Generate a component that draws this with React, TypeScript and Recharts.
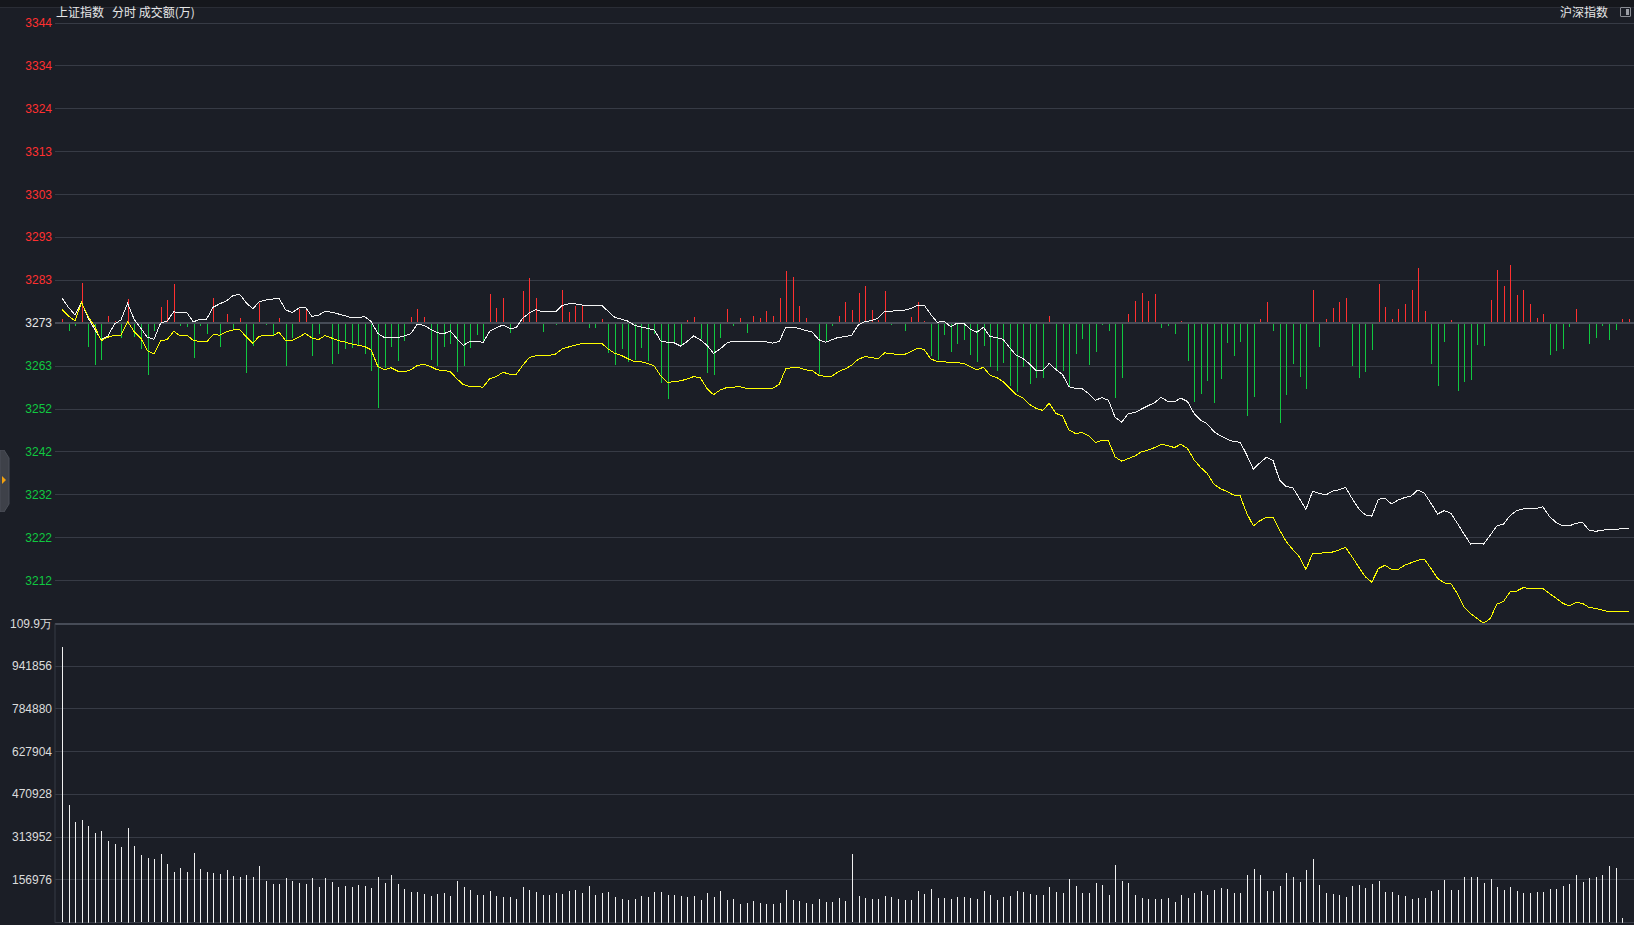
import { ComposedChart, Line, Bar, XAxis, YAxis, CartesianGrid, ReferenceLine } from "recharts";

// 上证指数 intraday, one point per minute from 9:30 (index 0)
const PREV_CLOSE = 3273.3;
const PRICE_STEP = 10.14;
const PRICE_LABELS = ["3344","3334","3324","3313","3303","3293","3283","3273","3263","3252","3242","3232","3222","3212"];
const VOLUME_TICKS = [0, 156976, 313952, 470928, 627904, 784880, 941856, 1098832];
const VOLUME_LABELS = ["", "156976","313952","470928","627904","784880","941856","109.9万"];
const HALF_HOUR_MARKS = [30, 60, 90, 150, 180, 210]; // 10:00 10:30 11:00 13:30 14:00 14:30
const MIDDAY_MARK = 119.1;

// white: index price
const INDEX_LINE = [
  3279.3, 3277.1, 3275.3, 3278.2, 3274.6, 3271.8, 3269.4, 3270.3, 3273.1, 3274.1,
  3278.0, 3274.2, 3272.1, 3270.0, 3269.5, 3273.3, 3273.8, 3276.0, 3275.8, 3275.8,
  3273.6, 3274.3, 3274.3, 3277.1, 3277.9, 3278.6, 3279.8, 3280.2, 3278.2, 3276.7,
  3278.4, 3278.8, 3279.0, 3279.2, 3276.5, 3275.8, 3276.9, 3277.1, 3274.9, 3275.2,
  3276.1, 3275.9, 3275.5, 3275.1, 3274.6, 3274.6, 3274.9, 3273.7, 3270.9, 3269.9,
  3270.0, 3269.9, 3270.3, 3270.8, 3273.1, 3272.8, 3271.9, 3271.1, 3270.8, 3271.5,
  3269.7, 3268.1, 3269.0, 3269.0, 3268.8, 3271.4, 3272.2, 3272.9, 3272.1, 3272.2,
  3274.5, 3275.7, 3276.5, 3276.0, 3276.1, 3276.0, 3277.5, 3277.9, 3277.9, 3277.6,
  3277.6, 3277.4, 3277.6, 3276.1, 3274.7, 3274.3, 3273.8, 3272.8, 3272.4, 3272.1,
  3271.7, 3269.1, 3268.8, 3268.7, 3267.9, 3269.0, 3270.3, 3269.4, 3268.1, 3266.2,
  3267.2, 3268.6, 3269.1, 3269.1, 3269.1, 3269.1, 3268.9, 3268.9, 3268.6, 3269.0,
  3272.4, 3272.4, 3272.1, 3271.6, 3271.2, 3269.4, 3268.8, 3269.4, 3270.0, 3270.1,
  3270.5, 3272.9, 3273.7, 3273.9, 3274.5, 3276.1, 3276.1, 3276.4, 3276.4, 3276.8,
  3277.6, 3277.6, 3275.4, 3273.5, 3273.8, 3272.5, 3273.3, 3273.3, 3271.9, 3271.2,
  3272.3, 3270.2, 3269.9, 3269.5, 3267.5, 3265.7, 3265.0, 3263.7, 3262.1, 3262.1,
  3263.8, 3262.4, 3261.2, 3258.3, 3257.9, 3257.8, 3256.7, 3255.1, 3255.7, 3255.1,
  3251.1, 3249.9, 3251.9, 3252.2, 3253.0, 3253.8, 3254.5, 3255.8, 3254.8, 3254.7,
  3255.6, 3254.8, 3252.0, 3250.4, 3249.5, 3247.7, 3246.7, 3245.9, 3245.3, 3245.2,
  3242.2, 3238.8, 3240.3, 3241.6, 3240.8, 3236.2, 3234.7, 3234.4, 3231.9, 3229.3,
  3233.6, 3233.1, 3232.7, 3233.6, 3233.9, 3234.5, 3231.9, 3229.5, 3228.0, 3227.7,
  3231.7, 3231.9, 3230.6, 3231.5, 3232.1, 3232.5, 3233.9, 3233.1, 3230.7, 3228.2,
  3229.0, 3228.4, 3226.0, 3223.5, 3221.1, 3221.3, 3221.1, 3223.2, 3225.4, 3225.8,
  3227.8, 3229.0, 3229.4, 3229.5, 3229.5, 3229.9, 3227.6, 3226.2, 3225.4, 3225.4,
  3226.0, 3226.2, 3224.4, 3224.1, 3224.4, 3224.5, 3224.6, 3224.7, 3224.7,
];

// yellow: equal-weight line
const LEADER_LINE = [
  3276.6, 3275.0, 3273.9, 3278.2, 3274.9, 3272.5, 3269.2, 3270.0, 3270.5, 3270.5,
  3273.7, 3271.3, 3269.8, 3266.8, 3266.0, 3269.2, 3269.4, 3271.4, 3270.3, 3270.5,
  3269.2, 3269.0, 3268.9, 3270.6, 3270.5, 3271.3, 3271.7, 3271.9, 3270.1, 3268.6,
  3270.2, 3270.5, 3270.3, 3271.2, 3269.2, 3269.2, 3270.0, 3270.9, 3269.8, 3269.4,
  3270.4, 3269.8, 3269.2, 3268.9, 3268.4, 3268.1, 3267.8, 3267.0, 3263.1, 3262.3,
  3262.8, 3262.0, 3261.8, 3262.3, 3263.3, 3263.6, 3263.1, 3262.3, 3262.1, 3261.9,
  3260.2, 3258.8, 3258.3, 3258.3, 3258.2, 3260.2, 3260.7, 3261.7, 3261.3, 3261.2,
  3263.3, 3265.2, 3265.6, 3265.6, 3265.7, 3266.0, 3267.2, 3267.7, 3268.1, 3268.5,
  3268.5, 3268.4, 3268.6, 3267.2, 3266.2, 3265.7, 3264.9, 3264.2, 3264.2, 3263.8,
  3263.2, 3260.8, 3259.3, 3259.5, 3259.7, 3260.1, 3260.7, 3260.4, 3257.9, 3256.4,
  3257.5, 3258.1, 3258.2, 3258.3, 3257.9, 3257.9, 3257.9, 3257.8, 3257.9, 3258.9,
  3262.6, 3262.8, 3262.8, 3262.3, 3262.1, 3261.0, 3260.7, 3260.8, 3261.9, 3262.5,
  3263.4, 3264.8, 3265.4, 3265.2, 3264.9, 3266.3, 3266.1, 3265.9, 3265.9, 3266.6,
  3267.4, 3267.1, 3264.9, 3264.2, 3264.2, 3264.0, 3264.0, 3263.8, 3263.0, 3262.3,
  3262.9, 3261.0, 3260.5, 3259.5, 3257.9, 3256.4, 3255.6, 3254.1, 3253.2, 3252.7,
  3254.4, 3252.0, 3251.4, 3248.1, 3247.2, 3247.5, 3246.7, 3245.1, 3245.6, 3245.5,
  3241.7, 3240.7, 3241.3, 3241.9, 3242.9, 3243.3, 3243.9, 3244.7, 3244.4, 3243.9,
  3244.7, 3243.7, 3241.0, 3239.2, 3237.8, 3235.3, 3234.2, 3233.5, 3232.7, 3232.5,
  3228.4, 3225.4, 3226.6, 3227.4, 3227.4, 3224.4, 3221.7, 3219.8, 3218.1, 3215.1,
  3218.9, 3218.9, 3219.1, 3219.2, 3219.7, 3220.3, 3218.1, 3215.7, 3213.4, 3212.1,
  3215.3, 3216.1, 3215.1, 3215.1, 3216.1, 3216.7, 3217.3, 3217.5, 3215.3, 3213.0,
  3211.9, 3211.8, 3209.4, 3206.3, 3204.7, 3203.5, 3202.4, 3203.5, 3206.9, 3207.5,
  3209.8, 3210.0, 3210.8, 3210.6, 3210.6, 3210.6, 3209.4, 3208.3, 3207.1, 3206.5,
  3207.3, 3207.1, 3206.1, 3205.9, 3205.5, 3205.1, 3205.1, 3205.2, 3205.1,
];

// red/green strength bars around the previous close
const BREADTH = [
  0.95, -1.97, -0.79, 9.62, -5.76, -9.86, -8.83, 1.81, 0.63, -3.63,
  5.76, -3.39, -6.23, -12.38, -1.97, 3.94, 5.52, 9.38, -0.79, -1.03,
  -8.36, -0.79, -2.68, 6.07, -5.76, 2.29, -1.42, 1.26, -11.9, -5.52,
  4.89, -0.55, -3.15, 1.26, -10.25, -3.63, 3.47, 3.47, -7.89, -2.68,
  -0.3, -9.78, -7.41, -6.23, -5.99, -5.52, -7.41, -11.43, -20.19, -10.72,
  -5.76, -9.07, -4.34, 1.5, 3.39, 1.5, -8.83, -10.25, -5.76, -5.05,
  -11.67, -10.25, -5.99, -2.92, -4.73, 6.94, 3.63, 5.99, -2.37, 0,
  7.65, 10.72, 5.99, -2.21, 0.32, -0.47, 7.89, 2.68, 4.1, 4.34,
  -1.1, -1.1, 1.03, -7.18, -10.01, -6.23, -9.3, -8.83, -5.99, -9.07,
  -2.68, -14.27, -18.06, -5.05, -5.52, 0.79, 1.5, -3.86, -11.91, -12.38,
  -3.63, 3.39, -0.79, 1.26, -2.44, 1.73, 1.26, 2.92, 1.73, 5.99,
  12.38, 10.96, 4.1, 1.26, 0.39, -12.14, -4.34, -0.79, 1.73, 5.05,
  3.15, 7.1, 8.83, 3.15, 0.79, 7.65, -0.39, 0.32, -1.81, 1.5,
  5.05, 0.55, -7.89, -8.83, -2.76, -6.94, -5.05, -3.94, -7.49, -9.3,
  -5.52, -10.49, -11.43, -9.54, -14.98, -16.4, -10.49, -14.51, -13.09, -13.09,
  1.73, -11.2, -11.43, -14.98, -7.41, -3.86, -10.01, -6.94, -0.39, -1.97,
  -17.82, -13.09, 2.21, 5.28, 7.18, 5.28, 6.94, -1.1, -0.79, -2.68,
  0.55, -9.07, -18.77, -16.87, -13.8, -19.0, -13.33, -4.81, -7.89, -4.57,
  -22.08, -17.58, 1.03, 5.05, -1.97, -23.73, -17.11, -9.78, -12.85, -15.69,
  7.89, -5.76, 1.03, 3.63, 5.05, 5.99, -10.25, -13.09, -11.67, -6.47,
  9.3, 3.86, 1.03, 3.39, 4.57, 7.89, 13.09, 2.92, -9.78, -14.98,
  -4.57, 0.79, -16.16, -14.04, -13.56, -5.28, -5.52, 5.52, 12.62, 8.83,
  13.8, 6.7, 7.89, 4.57, 1.26, 2.21, -7.65, -6.7, -6.23, -1.03,
  3.39, 0.32, -5.05, -3.63, -0.79, -4.1, -1.73, 1.03, 1.03,
];

// 成交额(万) per minute
const VOLUME = [
  1011000, 432600, 369600, 377000, 354700, 328800, 336200, 299100, 288000, 276900,
  347300, 280600, 247200, 236100, 232400, 250900, 213800, 187900, 202700, 187900,
  254600, 199000, 187900, 184200, 180500, 195300, 173000, 169300, 176700, 169300,
  206400, 154500, 143400, 143400, 165600, 154500, 147100, 143400, 165600, 132300,
  165600, 150800, 132300, 136000, 132300, 139700, 136000, 128500, 169300, 147100,
  176700, 143400, 123600, 113700, 113700, 106300, 98900, 106300, 110000, 98900,
  154500, 132300, 121100, 102600, 102600, 117400, 98900, 95200, 95200, 87800,
  132300, 121100, 113700, 102600, 102600, 110000, 106300, 117400, 121100, 110000,
  136000, 102600, 110000, 113700, 95200, 87800, 84000, 87800, 98900, 95200,
  113700, 113700, 102600, 102600, 98900, 95200, 98900, 84000, 110000, 95200,
  117400, 84000, 87800, 69200, 72900, 80300, 72900, 69200, 69200, 72900,
  121100, 84000, 80300, 72900, 69200, 87800, 76600, 76600, 91500, 80300,
  250900, 98900, 91500, 87800, 87800, 98900, 95200, 87800, 84000, 84000,
  117400, 106300, 124800, 91500, 91500, 87800, 95200, 95200, 91500, 87800,
  117400, 102600, 84000, 95200, 98900, 117400, 113700, 106300, 102600, 102600,
  132300, 113700, 110000, 161900, 136000, 110000, 110000, 147100, 139700, 102600,
  210100, 154500, 147100, 102600, 91500, 87800, 87800, 87800, 91500, 76600,
  102600, 91500, 110000, 117400, 102600, 121100, 128500, 124800, 110000, 110000,
  176700, 199000, 176700, 117400, 117400, 136000, 184200, 169300, 150800, 195300,
  232400, 139700, 110000, 106300, 102600, 95200, 136000, 139700, 128500, 143400,
  154500, 113700, 113700, 102600, 98900, 87800, 91500, 91500, 117400, 121100,
  158200, 121100, 121100, 169300, 169300, 169300, 147100, 161900, 132300, 121100,
  132300, 117400, 110000, 110000, 113700, 113700, 124800, 124800, 136000, 143400,
  176700, 150800, 165600, 169300, 176700, 206400, 202700, 17300,
];

const BG = "#1b1e26";
const GRID = "#373b45";
const BASE_LINE = "#474c57";
const RED = "#ff3030";
const GREEN = "#10c840";
const FONT = "'Liberation Sans', Arial, sans-serif";
const CJK = "'Noto Sans CJK SC', sans-serif";
const X_DOMAIN = [-1.03, 238.83];
const W = 1634;
const H = 925;
const SPLIT = 623.5;

const rows = INDEX_LINE.map((v, i) => ({
  i,
  index: v,
  leader: LEADER_LINE[i],
  breadth: BREADTH[i],
  volume: i < VOLUME.length ? VOLUME[i] : null,
}));

const PRICE_TICKS = PRICE_LABELS.map((_, k) => PREV_CLOSE + (7 - k) * PRICE_STEP);

function PriceTick(props: any) {
  const k = PRICE_TICKS.indexOf(props.payload.value);
  const fill = k < 7 ? RED : k === 7 ? "#e8e8e8" : GREEN;
  return (
    <text x={52} y={props.y} textAnchor="end" dominantBaseline="central" fill={fill} fontSize={12} fontFamily={FONT}>
      {PRICE_LABELS[k]}
    </text>
  );
}

function VolumeTick(props: any) {
  const k = VOLUME_TICKS.indexOf(props.payload.value);
  return (
    <text x={52} y={props.y} textAnchor="end" dominantBaseline="central" fill="#dcdcdc" fontSize={12} fontFamily={FONT}>
      {VOLUME_LABELS[k]}
    </text>
  );
}

// thin 1px sticks snapped to whole pixels
function Stick(props: any) {
  const { x, y, width, height, payload } = props;
  if (height == null || isNaN(height)) return null;
  const top = Math.round(Math.min(y, y + height));
  const h = Math.max(Math.round(Math.abs(height)), 1);
  const color = props.fillColor ?? (payload.breadth >= 0 ? RED : GREEN);
  return <rect x={Math.round(x + width / 2)} y={top} width={1} height={h} fill={color} shapeRendering="crispEdges" />;
}

function Verticals() {
  return (
    <>
      {HALF_HOUR_MARKS.map((m) => (
        <ReferenceLine key={m} x={m} stroke="#4d525d" strokeDasharray="1 2" ifOverflow="visible" />
      ))}
      <ReferenceLine x={MIDDAY_MARK} stroke="#3f4450" strokeWidth={1} />
    </>
  );
}

export default function App() {
  const half = 7 * PRICE_STEP;
  return (
    <div style={{ position: "relative", width: W, height: H, background: BG, overflow: "hidden" }}>
      <style>{"html,body{margin:0;padding:0;background:#1b1e26;} .recharts-line-curve{shape-rendering:crispEdges;} .recharts-cartesian-grid line,.recharts-reference-line line{shape-rendering:crispEdges;}"}</style>

      {/* strip of the toolbar above */}
      <div style={{ position: "absolute", left: 0, top: 0, width: W, height: 7, background: "#15171c", borderBottom: "1px solid #2a2d35" }} />

      <div style={{ position: "absolute", left: 0, top: 0 }}>
        <ComposedChart width={W} height={H} data={rows} margin={{ top: 23, right: 0, bottom: H - SPLIT, left: 0 }}>
          <XAxis dataKey="i" type="number" domain={X_DOMAIN} hide allowDataOverflow />
          <YAxis
            yAxisId="p"
            width={55}
            domain={[PREV_CLOSE - half, PREV_CLOSE + half]}
            ticks={PRICE_TICKS}
            interval={0}
            allowDataOverflow
            tickLine={false}
            axisLine={{ stroke: GRID }}
            tick={PriceTick}
          />
          <YAxis yAxisId="b" hide domain={[-half, half]} allowDataOverflow />
          <CartesianGrid yAxisId="p" vertical={false} stroke={GRID} />
          {Verticals()}
          <ReferenceLine yAxisId="p" y={PREV_CLOSE} stroke={BASE_LINE} strokeWidth={2} />
          <Bar yAxisId="b" dataKey="breadth" barSize={1} shape={Stick} isAnimationActive={false} />
          <Line yAxisId="p" dataKey="index" stroke="#f4f4f4" strokeWidth={1} dot={false} type="linear" isAnimationActive={false} />
          <Line yAxisId="p" dataKey="leader" stroke="#ffff00" strokeWidth={1} dot={false} type="linear" isAnimationActive={false} />
        </ComposedChart>
      </div>

      <div style={{ position: "absolute", left: 0, top: 0 }}>
        <ComposedChart width={W} height={H} data={rows} margin={{ top: SPLIT, right: 0, bottom: 2.3, left: 0 }}>
          <XAxis dataKey="i" type="number" domain={X_DOMAIN} hide allowDataOverflow />
          <YAxis
            yAxisId="v"
            width={55}
            domain={[0, VOLUME_TICKS[VOLUME_TICKS.length - 1]]}
            ticks={VOLUME_TICKS}
            interval={0}
            allowDataOverflow
            tickLine={false}
            axisLine={{ stroke: GRID }}
            tick={VolumeTick}
          />
          <CartesianGrid yAxisId="v" vertical={false} stroke={GRID} />
          {Verticals()}
          <ReferenceLine yAxisId="v" y={VOLUME_TICKS[VOLUME_TICKS.length - 1]} stroke={BASE_LINE} strokeWidth={2} />
          <Bar yAxisId="v" dataKey="volume" barSize={1} shape={(p: any) => <Stick {...p} fillColor="#f0f0f0" />} isAnimationActive={false} />
        </ComposedChart>
      </div>

      {/* header */}
      <div style={{ position: "absolute", left: 56, top: 4, fontSize: 12, lineHeight: "16px", color: "#e6e6e6", fontFamily: CJK, whiteSpace: "pre" }}>
        {"上证指数   分时 成交额(万)"}
      </div>
      <div style={{ position: "absolute", left: 1560, top: 4, fontSize: 12, lineHeight: "16px", color: "#e6e6e6", fontFamily: CJK }}>
        沪深指数
      </div>
      <div style={{ position: "absolute", left: 1620, top: 7, width: 9, height: 8, border: "1px solid #8a8d94", borderRadius: 1 }}>
        <div style={{ position: "absolute", right: 1, top: 1, width: 3, height: 6, background: "#9a9da4" }} />
      </div>

      {/* side handle */}
      <svg style={{ position: "absolute", left: 0, top: 450 }} width={10} height={62}>
        <polygon points="0,0 4,0 9,8 9,54 4,62 0,62" fill="#3e4149" stroke="#4b4f58" />
        <polygon points="2,26 6,30 2,34" fill="#f0a010" />
      </svg>
    </div>
  );
}
